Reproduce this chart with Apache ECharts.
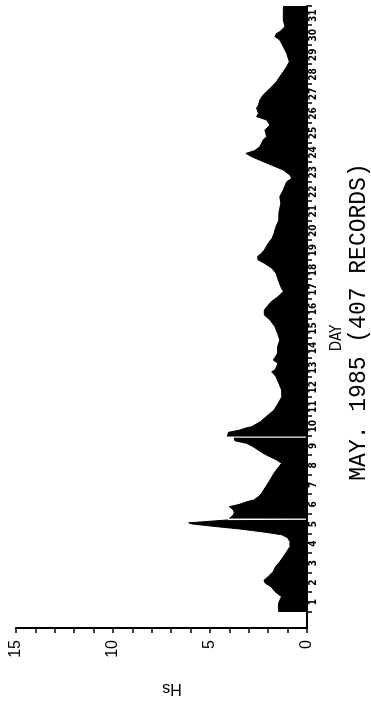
<!DOCTYPE html>
<html>
<head>
<meta charset="utf-8">
<script src="https://cdn.jsdelivr.net/npm/echarts/dist/echarts.min.js"></script>
<style>
html,body{margin:0;padding:0;background:#fff;overflow:hidden;width:371px;height:702px;}
#wrap{position:absolute;left:0;top:0;width:702px;height:371px;transform-origin:0 0;transform:translateY(702px) rotate(-90deg);}
</style>
</head>
<body>
<div id="wrap"></div>
<script>
// Time of record (day of May 1985, fractional) and significant wave height Hs (m); null = missing record
var dayTimes = [1.00,1.25,1.50,1.78,2.04,2.29,2.47,2.62,2.81,3.06,3.32,3.57,3.83,4.08,4.34,4.60,4.80,4.95,5.10,5.25,5.38,5.50,5.56,5.66,5.70,5.715,5.74,5.78,
  5.96,6.10,6.22,6.39,6.50,6.64,6.73,6.90,7.07,7.41,7.75,8.10,8.43,8.61,8.78,8.94,9.12,9.29,9.46,9.63,9.76,9.915,9.94,9.975,
  10.05,10.19,10.31,10.40,10.48,10.57,10.74,10.91,11.08,11.33,11.68,12.01,12.36,12.70,13.04,13.29,13.38,13.55,13.72,13.80,13.89,
  14.06,14.23,14.57,14.91,15.26,15.59,15.94,16.19,16.45,16.87,17.13,17.39,17.64,17.98,18.33,18.58,18.84,19.01,19.18,19.35,19.52,
  19.86,20.12,20.37,20.71,21.05,21.40,21.91,22.25,22.59,23.01,23.18,23.35,23.61,23.87,24.12,24.29,24.46,24.60,24.80,25.15,25.31,
  25.66,25.91,26.17,26.34,26.51,26.77,26.94,27.19,27.45,27.62,27.87,28.13,28.39,28.64,28.90,29.15,29.58,29.92,30.26,30.43,30.60,
  30.69,30.94,31.28,31.80,32.00];
var hsValues = [1.45,1.48,1.45,1.31,1.65,1.85,2.15,2.22,2.00,1.75,1.62,1.40,1.22,1.05,0.88,0.88,1.00,1.30,2.30,3.50,4.80,5.90,6.10,6.00,4.20,4.10,null,4.00,
  3.80,3.75,3.80,4.00,3.50,3.10,2.75,2.50,2.34,2.12,1.91,1.70,1.45,1.31,1.57,1.91,2.26,2.52,2.78,3.12,3.72,3.75,null,4.10,
  4.15,4.05,3.45,3.20,2.85,2.75,2.40,2.20,2.00,1.70,1.48,1.30,1.31,1.45,1.60,1.82,1.65,1.57,1.50,1.40,1.74,
  1.62,1.52,1.52,1.40,1.52,1.65,1.91,2.20,2.20,1.85,1.50,1.22,1.35,1.48,1.60,1.80,2.20,2.52,2.55,2.35,2.20,
  2.00,1.80,1.70,1.60,1.45,1.45,1.35,1.40,1.22,1.05,0.79,0.88,1.22,1.85,2.45,2.85,3.15,2.70,2.43,2.26,2.08,
  2.17,1.91,2.08,2.60,2.50,2.60,2.50,2.43,2.26,2.08,1.82,1.57,1.40,1.22,1.05,0.91,1.05,1.22,1.40,1.65,1.57,
  1.40,1.14,1.22,1.22,1.20];
var dayLabels = [1,2,3,4,5,6,7,8,9,10,11,12,13,14,15,16,17,18,19,20,21,22,23,24,25,26,27,28,29,30,31];
var hsTickLabels = [0,5,10,15];
var xTitle = 'DAY';
var subTitle = 'MAY. 1985 (407 RECORDS)';
var yTitle = 'Hs';

var seriesData = dayTimes.map(function (t, i) { return [t, hsValues[i]]; });
var tickDays = dayLabels.concat([dayLabels[dayLabels.length - 1] + 1]);
var labelPos = dayLabels.map(function (d) { return d + 0.5; });

var chart = echarts.init(document.getElementById('wrap'), null, {renderer: 'canvas', width: 702, height: 371});
chart.setOption({
  animation: false,
  backgroundColor: '#fff',
  grid: {left: 74, right: 6, top: 16, bottom: 64, containLabel: false},
  xAxis: {
    type: 'value', min: 0.18, max: 32,
    axisLine: {show: true, lineStyle: {color: '#000', width: 2}},
    axisTick: {show: true, customValues: tickDays, length: 5, lineStyle: {color: '#000', width: 1.5}},
    axisLabel: {show: true, customValues: labelPos, margin: 1, color: '#000',
      fontFamily: '"Liberation Sans Narrow","DejaVu Sans Condensed",sans-serif', fontWeight: 'bold', fontSize: 10,
      formatter: function (v) { return String(Math.floor(v)); }},
    splitLine: {show: false}
  },
  yAxis: {
    type: 'value', min: 0, max: 15, interval: 1,
    axisLine: {show: true, lineStyle: {color: '#000', width: 2}},
    axisTick: {show: true, length: 5, lineStyle: {color: '#000', width: 1.5}},
    axisLabel: {show: true, margin: 12, color: '#000', fontFamily: '"Liberation Sans",Arial,sans-serif', fontSize: 16,
      formatter: function (v) { return hsTickLabels.indexOf(v) >= 0 ? String(v) : ''; }},
    splitLine: {show: false}
  },
  graphic: [
    {type: 'text', x: 364, y: 337, style: {text: xTitle, font: '15px "Liberation Sans Narrow","DejaVu Sans Condensed",sans-serif', fill: '#000', textAlign: 'center', textVerticalAlign: 'middle'}},
    {type: 'text', x: 380, y: 358.5, style: {text: subTitle, font: '23px "Liberation Mono",monospace', fill: '#000', textAlign: 'center', textVerticalAlign: 'middle'}},
    {type: 'text', x: 14, y: 172, rotation: Math.PI / 2, style: {text: yTitle, font: '16px "Liberation Sans",Arial,sans-serif', fill: '#000', textAlign: 'center', textVerticalAlign: 'middle'}}
  ],
  series: [{
    type: 'line',
    data: seriesData,
    showSymbol: false,
    connectNulls: false,
    lineStyle: {color: '#000', width: 1},
    areaStyle: {color: '#000', opacity: 1},
    silent: true
  }]
});
</script>
</body>
</html>
